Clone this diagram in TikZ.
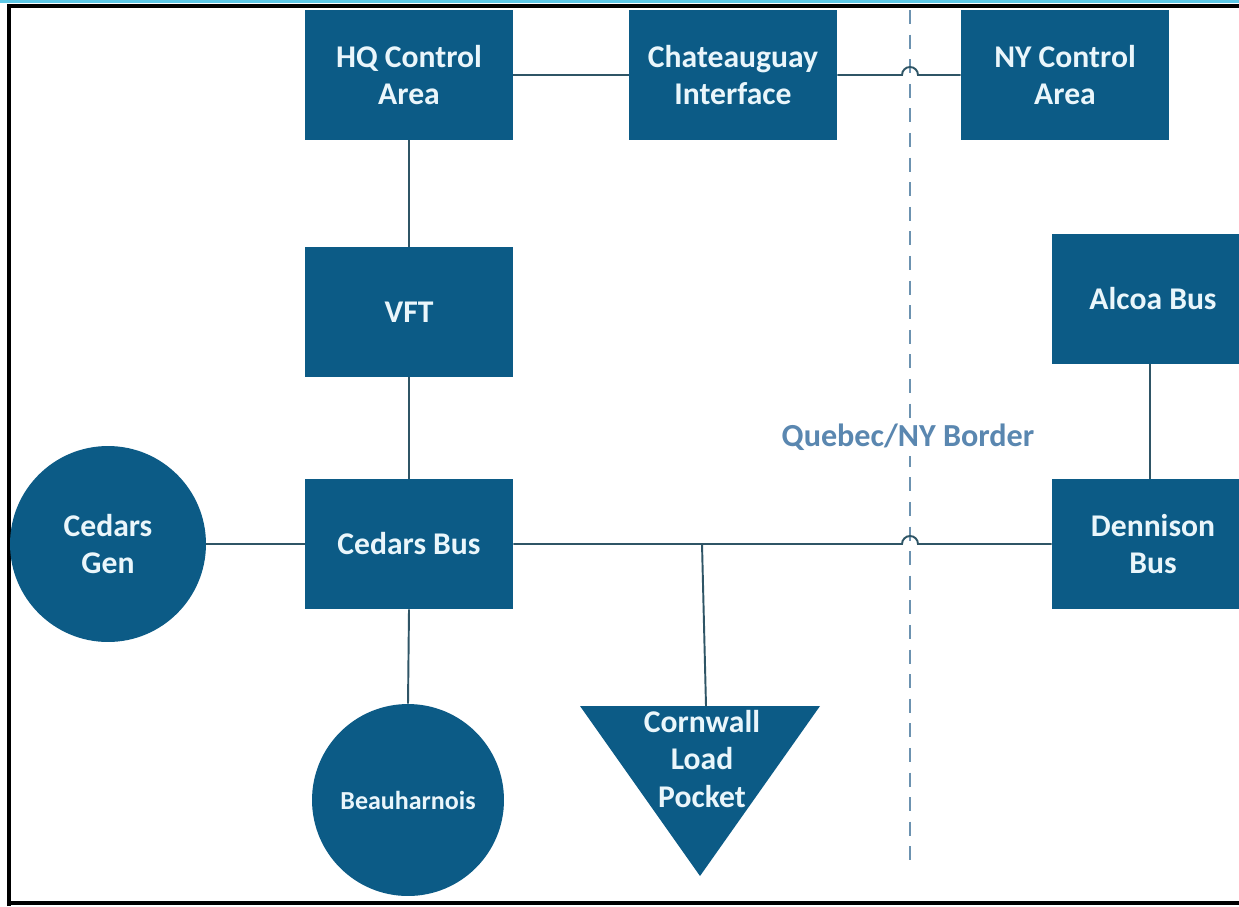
\documentclass[tikz,border=0pt]{standalone}
\usepackage{fontspec}
\setmainfont{Carlito}
\definecolor{boxblue}{HTML}{0C5B86}
\definecolor{boxtext}{HTML}{EAF6FB}
\definecolor{linec}{HTML}{2F5566}
\definecolor{borderc}{HTML}{6C92B0}
\definecolor{bordertext}{HTML}{5A87B0}
\definecolor{topcyan}{HTML}{5CC8E6}
\begin{document}
\begin{tikzpicture}[x=0.02cm,y=-0.02cm,
  unitbox/.style={fill=boxblue,text=boxtext,font=\bfseries\fontsize{18}{21.5}\selectfont,
    align=center,minimum width=4.16cm,minimum height=2.6cm,inner sep=0pt},
  gencircle/.style={circle,fill=boxblue,text=boxtext,font=\bfseries\fontsize{18}{21.5}\selectfont,
    align=center,minimum size=3.92cm,inner sep=0pt},
  conn/.style={draw=linec,line width=1.1pt},
  borderline/.style={draw=borderc,line width=1.2pt,dash pattern=on 8pt off 6pt}]
\clip (0,0) rectangle (1239,906);
\fill[white] (0,0) rectangle (1239,906);
% frame
\fill[topcyan] (0,0) rectangle (1239,3);
\draw[black,line width=1.8pt] (9,906) -- (9,6) -- (1239,6);
\draw[black,line width=1.8pt] (9,903) -- (1239,903);
% border line
\coordinate (btop) at (910,10);
\coordinate (bbot) at (910,865);
\draw[borderline] (btop) -- (bbot);
\node[fill=white,text=bordertext,font=\bfseries\fontsize{18.3}{21}\selectfont,inner sep=3pt] (blabel) at (908,437) {Quebec/NY Border};
% boxes
\node[unitbox] (hq) at (409,75) {HQ Control\\Area};
\node[unitbox] (chat) at (733,75) {Chateauguay\\Interface};
\node[unitbox] (ny) at (1065,75) {NY Control\\Area};
\node[unitbox] (vft) at (409,312) {VFT};
\node[unitbox] (cbus) at (409,544) {Cedars Bus};
\node[unitbox,minimum width=4.04cm] (alcoa) at (1153,299) {Alcoa Bus};
\node[unitbox,minimum width=4.04cm] (denn) at (1153,544) {Dennison\\Bus};
\node[gencircle] (cgen) at (108,544) {Cedars\\Gen};
\node[gencircle,minimum size=3.84cm,font=\bfseries\fontsize{14.8}{17}\selectfont] (beau) at (408,800) {Beauharnois};
% triangle load
\fill[boxblue] (580,706) -- (820,706) -- (700,876) -- cycle;
\node[text=boxtext,font=\bfseries\fontsize{18}{21.5}\selectfont,align=center,inner sep=0pt] (corn) at (702,759) {Cornwall\\Load\\Pocket};
\coordinate (corntop) at (706,706);
\coordinate (tap) at (702,544);
% connectors
\draw[conn] (hq.east) -- (chat.west);
\draw[conn] (chat.east) -- (902,75) arc[start angle=180,end angle=0,radius=0.16cm] -- (ny.west);
\draw[conn] (hq.south) -- (vft.north);
\draw[conn] (vft.south) -- (cbus.north);
\draw[conn] (cgen.east) -- (cbus.west);
\draw[conn] (cbus.south) -- (beau.north);
\draw[conn] (cbus.east) -- (tap) -- (902,544) arc[start angle=180,end angle=0,radius=0.16cm] -- (denn.west);
\draw[conn] (tap) -- (corntop);
\draw[conn] (alcoa.south -| 1150,0) -- (denn.north -| 1150,0);
\end{tikzpicture}
\end{document}
